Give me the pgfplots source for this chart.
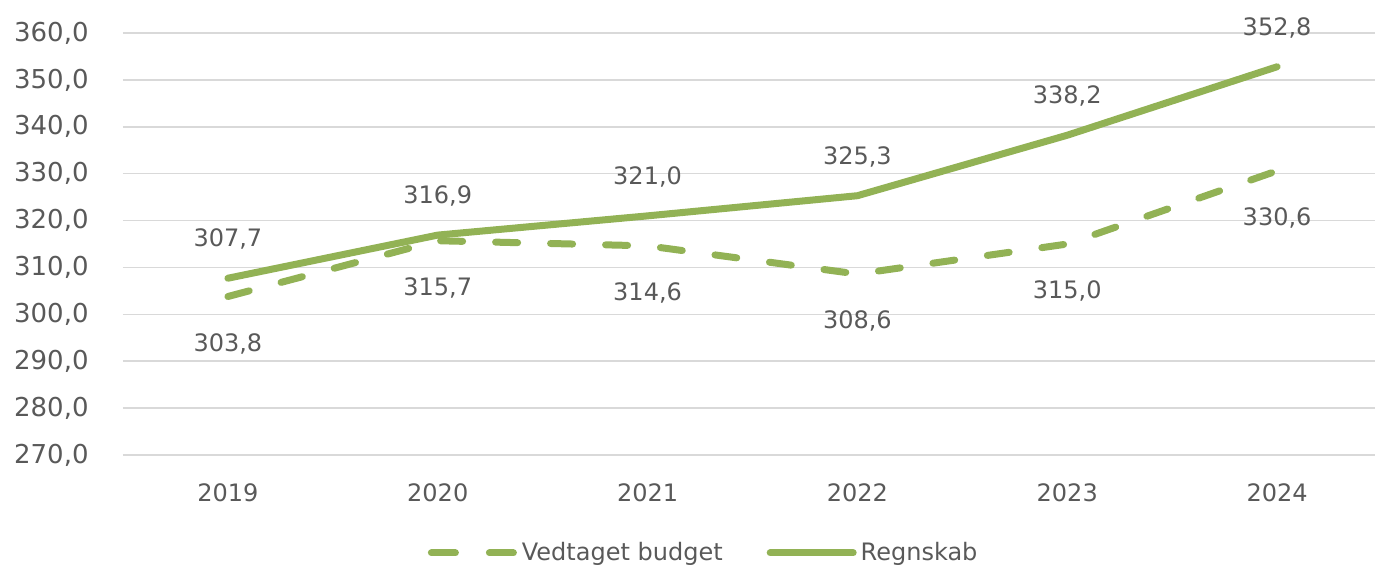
\documentclass[border=0pt]{standalone}
\usepackage{pgfplots}
\pgfplotsset{compat=1.18}
\usepackage{fontspec}
\setmainfont{DejaVu Sans}
\definecolor{lgreen}{RGB}{146,178,85}
\definecolor{tgray}{RGB}{89,89,89}
\definecolor{ggray}{RGB}{217,217,217}
\begin{document}
\begin{tikzpicture}
\begin{axis}[
  scale only axis, width=629.5pt, height=211pt,
  xmin=-0.5, xmax=5.5, ymin=270, ymax=360,
  xtick={0,1,2,3,4,5}, xticklabels={2019,2020,2021,2022,2023,2024},
  ytick={270,280,...,360},
  axis line style={draw=none}, major tick length=0pt,
  ymajorgrids, grid style={ggray, line width=0.75pt},
  clip=false,
  yticklabel style={anchor=east, inner sep=0pt, xshift=-17pt, text=tgray, font=\fontsize{13}{15}\selectfont},
  xticklabel style={anchor=center, inner sep=0pt, yshift=-19pt, text=tgray, font=\fontsize{12}{14}\selectfont},
  legend style={at={(0.462,-0.232)}, anchor=center, draw=none, fill=none, legend columns=2,
    /tikz/every even column/.append style={column sep=20pt},
    font=\fontsize{12}{14}\selectfont, text=tgray, nodes={inner sep=2pt}},
  legend cell align=left,
  /pgf/number format/use comma, /pgf/number format/fixed, /pgf/number format/fixed zerofill,
  /pgf/number format/precision=1, /pgf/number format/assume math mode=true, /pgf/number format/1000 sep={},
]
\addplot[lgreen, line width=3.5pt, line cap=round, line join=round, dash pattern=on 11pt off 16.5pt,
  nodes near coords, every node near coord/.append style={anchor=center, yshift=-23.5pt, text=tgray, font=\fontsize{12}{14}\selectfont},
  legend image code/.code={\draw[lgreen, line width=3.5pt, line cap=round, dash pattern=on 12pt off 17pt] (1.75pt,0pt) -- (43.25pt,0pt);}]
  coordinates {(0,303.8) (1,315.7) (2,314.6) (3,308.6) (4,315.0) (5,330.6)};
\addlegendentry{Vedtaget budget}
\addplot[lgreen, line width=3.5pt, line cap=round, line join=round,
  nodes near coords, every node near coord/.append style={anchor=center, yshift=19.5pt, text=tgray, font=\fontsize{12}{14}\selectfont},
  legend image code/.code={\draw[lgreen, line width=3.5pt, line cap=round] (1.75pt,0pt) -- (43.25pt,0pt);}]
  coordinates {(0,307.7) (1,316.9) (2,321.0) (3,325.3) (4,338.2) (5,352.8)};
\addlegendentry{Regnskab}
\coordinate (O) at (rel axis cs:0,0);
\end{axis}
\pgfresetboundingbox
\path (O) ++(-61.5pt,-58pt) rectangle ++(687.5pt,285.5pt);
\end{tikzpicture}
\end{document}
